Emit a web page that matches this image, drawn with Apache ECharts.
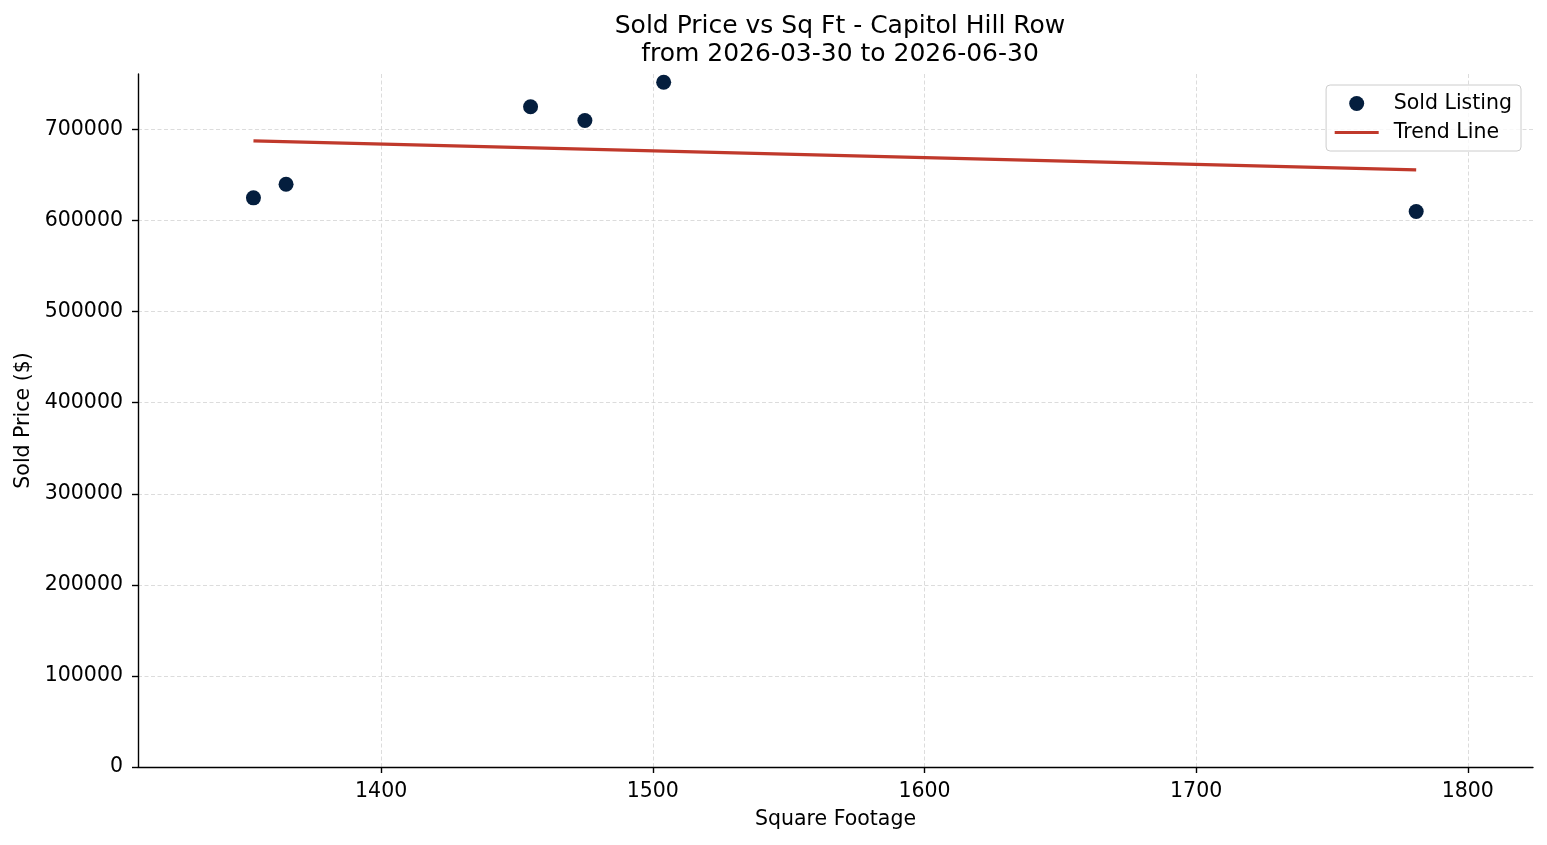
<!DOCTYPE html>
<html>
<head>
<meta charset="utf-8">
<script src="https://cdn.jsdelivr.net/npm/echarts@6/dist/echarts.min.js"></script>
<style>
  html, body { margin: 0; padding: 0; background: #fff; }
  #chart { width: 1547px; height: 845px; }
</style>
</head>
<body>
<div id="chart"></div>
<script>
  // data
  const sqft = [1353, 1365, 1455, 1475, 1504, 1781];
  const soldPrice = [625000, 640000, 725000, 710000, 752000, 610000];
  const trendSqft = [1353, 1781];
  const trendPrice = [687500, 655700];
  const xTicks = [1400, 1500, 1600, 1700, 1800];
  const yTicks = [0, 100000, 200000, 300000, 400000, 500000, 600000, 700000];

  const font = 'DejaVu Sans';
  const fs = 20.5;
  const chart = echarts.init(document.getElementById('chart'));

  const gridLine = { show: true, lineStyle: { color: '#d3d3d3', width: 0.8, type: [4, 2.5] } };

  chart.setOption({
    animation: false,
    textStyle: { fontFamily: font },
    title: {
      text: 'Sold Price vs Sq Ft - Capitol Hill Row\nfrom 2026-03-30 to 2026-06-30',
      left: 835,
      top: 7,
      textAlign: 'center',
      textStyle: { fontFamily: font, fontSize: 25, fontWeight: 'normal', color: '#000', lineHeight: 28 }
    },
    legend: {
      orient: 'vertical',
      right: 26,
      top: 85,
      padding: [8, 9, 8, 7],
      itemGap: 8,
      itemWidth: 44,
      itemHeight: 15,
      backgroundColor: 'rgba(255,255,255,0.8)',
      borderColor: '#cccccc',
      borderWidth: 1,
      borderRadius: 4,
      textStyle: { fontFamily: font, fontSize: fs, color: '#000', padding: [0, 0, 0, 10] },
      data: [
        { name: 'Sold Listing', icon: 'circle' },
        { name: 'Trend Line', itemStyle: { opacity: 0 }, lineStyle: { width: 3.2, color: '#c0392b' } }
      ]
    },
    grid: { left: 138, right: 14, top: 74, bottom: 78 },
    xAxis: {
      type: 'value',
      min: 1310.5,
      max: 1824,
      name: 'Square Footage',
      nameLocation: 'middle',
      nameGap: 42,
      nameTextStyle: { fontFamily: font, fontSize: fs, color: '#000' },
      axisLine: { show: true, lineStyle: { color: '#000', width: 1.4 } },
      axisTick: { show: true, length: 6, customValues: xTicks, lineStyle: { color: '#000', width: 1.4 } },
      axisLabel: { customValues: xTicks, formatter: v => String(v), fontFamily: font, fontSize: fs, color: '#000', margin: 14 },
      splitLine: gridLine
    },
    yAxis: {
      type: 'value',
      min: 0,
      max: 761000,
      name: 'Sold Price ($)',
      nameLocation: 'middle',
      nameGap: 104,
      nameTextStyle: { fontFamily: font, fontSize: fs, color: '#000' },
      axisLine: { show: true, lineStyle: { color: '#000', width: 1.4 } },
      axisTick: { show: true, length: 6, customValues: yTicks, lineStyle: { color: '#000', width: 1.4 } },
      axisLabel: { customValues: yTicks, formatter: v => String(v), fontFamily: font, fontSize: fs, color: '#000', margin: 15 },
      splitLine: gridLine
    },
    series: [
      {
        name: 'Sold Listing',
        type: 'scatter',
        data: sqft.map((x, i) => [x, soldPrice[i]]),
        symbolSize: 15,
        itemStyle: { color: '#041e3e', opacity: 1 },
        z: 3
      },
      {
        name: 'Trend Line',
        type: 'line',
        data: trendSqft.map((x, i) => [x, trendPrice[i]]),
        symbol: 'none',
        lineStyle: { color: '#c0392b', width: 3.2 },
        itemStyle: { color: '#c0392b' },
        z: 2
      }
    ]
  });
</script>
</body>
</html>
